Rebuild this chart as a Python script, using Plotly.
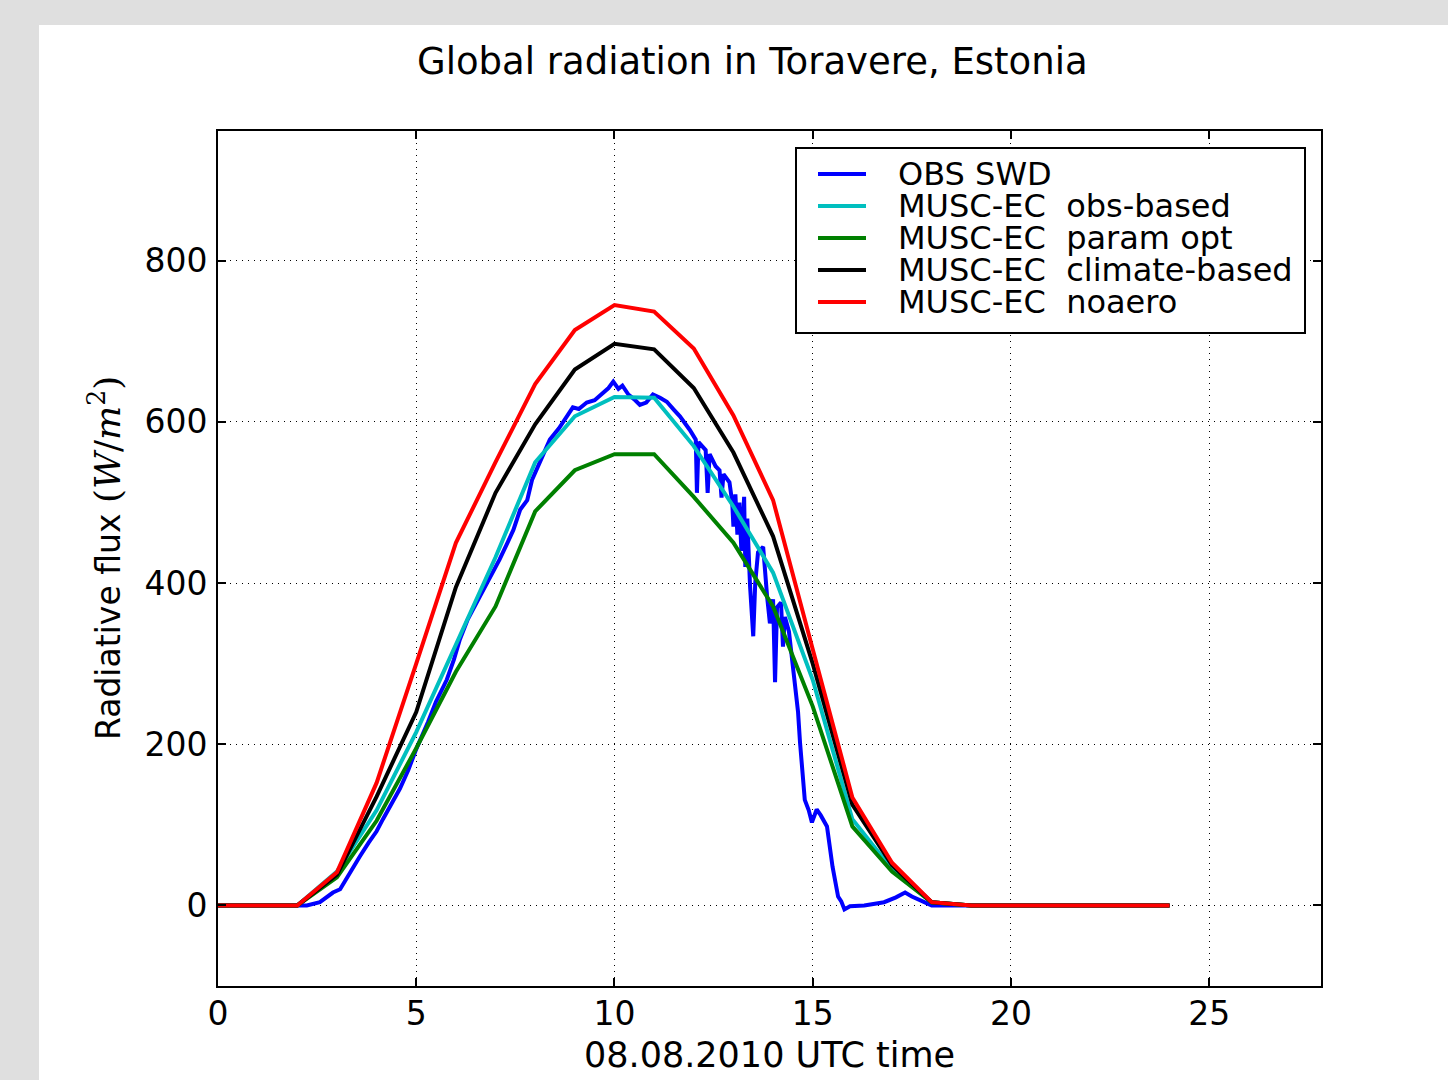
import plotly.graph_objects as go

# ---- data -------------------------------------------------------------
hours = list(range(25))

obs_based = [0, 0, 0, 42, 118, 215, 325, 432, 550, 607, 631, 630, 570, 495, 413, 280, 107, 45, 4, 0, 0, 0, 0, 0, 0]
param_opt = [0, 0, 0, 35, 105, 195, 290, 371, 489, 540, 560, 560, 507, 450, 371, 247, 98, 42, 4, 0, 0, 0, 0, 0, 0]
climate_based = [0, 0, 0, 38, 135, 240, 395, 512, 597, 665, 697, 690, 642, 562, 458, 300, 125, 50, 4, 0, 0, 0, 0, 0, 0]
noaero = [0, 0, 0, 41, 152, 300, 450, 550, 647, 714, 745, 737, 691, 608, 503, 318, 134, 53, 4, 0, 0, 0, 0, 0, 0]

obs_time = [0.0, 2.24, 2.57, 2.9, 3.08, 3.33, 3.58, 3.8, 4.0, 4.16, 4.3, 4.59, 4.8, 5.0,
            5.3, 5.5, 5.77, 5.95, 6.1, 6.3, 6.6, 6.85, 7.1, 7.3, 7.45, 7.62, 7.8, 7.92,
            8.1, 8.37, 8.6, 8.8, 8.95, 9.1, 9.3, 9.5, 9.7, 9.85, 9.97, 10.1, 10.2, 10.35,
            10.5, 10.64, 10.8, 10.97, 11.15, 11.32, 11.5, 11.65, 11.9, 12.05, 12.08, 12.12,
            12.3, 12.35, 12.4, 12.55, 12.65, 12.7, 12.75, 12.9, 12.97, 13.0, 13.05, 13.1,
            13.15, 13.2, 13.27, 13.3, 13.35, 13.42, 13.5, 13.55, 13.62, 13.75, 13.85, 13.92,
            14.0, 14.05, 14.1, 14.2, 14.25, 14.3, 14.4, 14.5, 14.57, 14.63, 14.68, 14.76,
            14.8, 14.9, 14.98, 15.1, 15.2, 15.36, 15.5, 15.64, 15.72, 15.8, 15.94, 16.3,
            16.6, 16.8, 17.1, 17.33, 17.5, 17.8, 18.0, 24.0]
obs_swd = [0, 0, 4, 16, 20, 41, 61, 78, 92, 107, 120, 145, 168, 194,
           228, 253, 280, 305, 330, 355, 383, 405, 429, 450, 466, 491, 503, 528,
           548, 578, 592, 606, 618, 616, 624, 627, 636, 642, 650, 641, 645, 634,
           628, 621, 624, 634, 630, 625, 615, 607, 590, 578, 512, 575,
           565, 512, 560, 545, 540, 506, 535, 525, 500, 470, 510, 460,
           500, 440, 507, 420, 480, 396, 334, 400, 438, 445, 383, 350,
           380, 277, 370, 376, 321, 358, 340, 300, 264, 240, 202, 160,
           131, 118, 103, 119, 112, 98, 48, 11, 5, -5, -1, 0,
           2, 4, 10, 16, 11, 4, 0, 0]

series_names = ["OBS SWD", "MUSC-EC\u00a0 obs-based", "MUSC-EC\u00a0 param opt",
                "MUSC-EC\u00a0 climate-based", "MUSC-EC\u00a0 noaero"]
series_colors = ["#0000ff", "#00bfbf", "#008000", "#000000", "#ff0000"]

x_ticks = [0, 5, 10, 15, 20, 25]
y_ticks = [0, 200, 400, 600, 800]

# ---- figure geometry (pixels) ----------------------------------------
W, H = 1448, 1080
L, R, T, B = 218, 1321, 131, 986


def px(xp):
    return (xp - L) / (R - L)


def py(yp):
    return (B - yp) / (B - T)


FONT = "DejaVu Sans"

fig = go.Figure()

series_y = [None, obs_based, param_opt, climate_based, noaero]
fig.add_trace(go.Scatter(x=obs_time, y=obs_swd, mode="lines", name=series_names[0],
                         line=dict(color=series_colors[0], width=4), showlegend=False))
for name, color, ys in zip(series_names[1:], series_colors[1:], series_y[1:]):
    fig.add_trace(go.Scatter(x=hours, y=ys, mode="lines", name=name,
                             line=dict(color=color, width=4), showlegend=False))

axis_common = dict(
    showline=True, linecolor="black", linewidth=2, mirror="ticks",
    ticks="inside", ticklen=8, tickwidth=1.5, tickcolor="black",
    showgrid=True, gridcolor="black", gridwidth=1, griddash="1px,5px",
    zeroline=False, tickfont=dict(family=FONT, size=33, color="black"),
)

fig.update_xaxes(range=[0, 27.82], tickvals=x_ticks, ticklabelstandoff=-3, **axis_common)
fig.update_yaxes(range=[-100, 961], tickvals=y_ticks, ticklabelstandoff=2, **axis_common)

shapes = [
    # white figure panel over the grey page
    dict(type="rect", xref="paper", yref="paper", x0=px(39), x1=px(W + 5), y0=py(H + 5), y1=py(25),
         fillcolor="white", line=dict(width=0), layer="below"),
    # legend frame
    dict(type="rect", xref="paper", yref="paper", x0=px(796), x1=px(1305), y0=py(333), y1=py(148),
         fillcolor="white", line=dict(color="black", width=2), layer="above"),
]
annotations = []
row_y = [174, 206, 238, 270, 302]
for name, color, ry in zip(series_names, series_colors, row_y):
    shapes.append(dict(type="line", xref="paper", yref="paper", x0=px(818), x1=px(866),
                       y0=py(ry), y1=py(ry), line=dict(color=color, width=4), layer="above"))
    annotations.append(dict(xref="paper", yref="paper", x=px(896), y=py(ry), text=name,
                            xanchor="left", yanchor="middle", showarrow=False,
                            font=dict(family=FONT, size=32, color="black")))

annotations += [
    dict(xref="paper", yref="paper", x=px(752), y=py(62), text="Global radiation in Toravere, Estonia",
         xanchor="center", yanchor="middle", showarrow=False,
         font=dict(family=FONT, size=37, color="black")),
    dict(xref="paper", yref="paper", x=px(769), y=py(1055), text="08.08.2010 UTC time",
         xanchor="center", yanchor="middle", showarrow=False,
         font=dict(family=FONT, size=35, color="black")),
    dict(xref="paper", yref="paper", x=px(105), y=py(558),
         text="Radiative flux <span style='font-family:DejaVu Serif;font-size:36px'>(<i>W</i>/<i>m</i><sup>2</sup>)</span>",
         textangle=-90, xanchor="center", yanchor="middle", showarrow=False,
         font=dict(family=FONT, size=33, color="black")),
]

fig.update_layout(
    width=W, height=H,
    margin=dict(l=L, r=W - R, t=T, b=H - B, pad=0),
    paper_bgcolor="#dfdfdf", plot_bgcolor="white",
    shapes=shapes, annotations=annotations, showlegend=False,
)

fig.write_html("out.html")
